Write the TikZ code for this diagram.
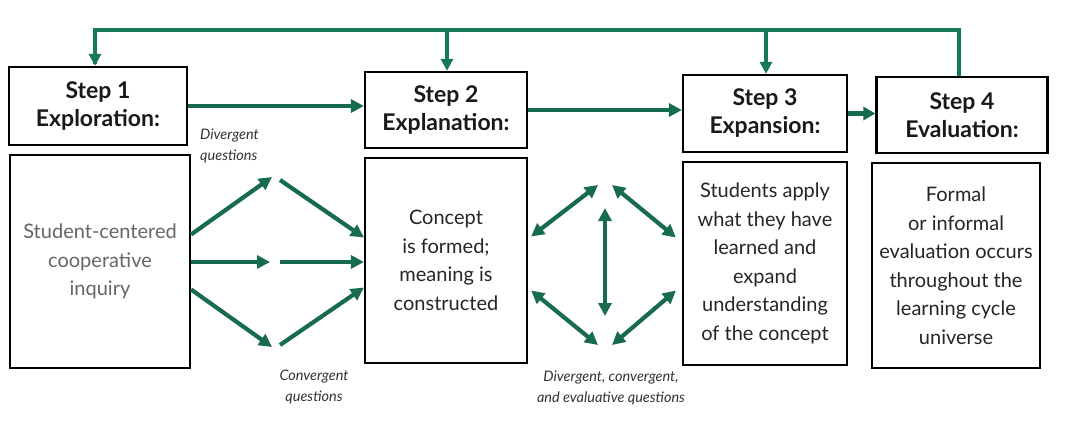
\documentclass[tikz,border=0pt]{standalone}
\usepackage{fontspec}
\setmainfont{Lato}
\usetikzlibrary{arrows.meta}
\definecolor{grn}{RGB}{24,108,78}
\definecolor{toplinec}{RGB}{22,122,84}
\begin{document}
\begin{tikzpicture}[x=1pt,y=-1pt,
  headbox/.style={draw=black,line width=2.2pt,fill=white,align=center,inner sep=0pt,
    font=\fontsize{23}{28}\selectfont\bfseries,text=black!90},
  bodybox/.style={draw=black,line width=2.2pt,fill=white,align=center,inner sep=0pt,
    font=\fontsize{20}{28.5}\selectfont,text=black!85},
  garrow/.style={draw=grn,line width=4.2pt,-{Triangle[length=13pt,width=13pt]}},
  darrow/.style={draw=grn,line width=4.2pt,{Triangle[length=13pt,width=13pt]}-{Triangle[length=13pt,width=13pt]}},
  loopline/.style={draw=toplinec,line width=3.6pt},
  qlabel/.style={font=\fontsize{14.5}{21}\selectfont\itshape,text=black!80,inner sep=0pt,align=center}]
\useasboundingbox (0,0) rectangle (1071,425);
\fill[white] (0,0) rectangle (1071,425);
% step boxes
\node[headbox,minimum width=178pt,minimum height=78pt] (s1h) at (98,106) {Step 1\\Exploration:};
\node[bodybox,minimum width=180pt,minimum height=213pt,text=black!60] (s1b) at (100,261.5) {Student-centered\\cooperative\\inquiry};
\node[headbox,minimum width=162pt,minimum height=76pt] (s2h) at (446,110) {Step 2\\Explanation:};
\node[bodybox,minimum width=162pt,minimum height=205pt] (s2b) at (446,260.5) {Concept\\is formed;\\meaning is\\constructed};
\node[headbox,minimum width=164pt,minimum height=77pt] (s3h) at (765,113.5) {Step 3\\Expansion:};
\node[bodybox,minimum width=164pt,minimum height=203pt] (s3b) at (765,263.5) {Students apply\\what they have\\learned and\\expand\\understanding\\of the concept};
\node[headbox,minimum width=171pt,minimum height=76pt] (s4h) at (962,115) {Step 4\\Evaluation:};
\node[bodybox,minimum width=168pt,minimum height=205pt] (s4b) at (956,265.5) {Formal\\or informal\\evaluation occurs\\throughout the\\learning cycle\\universe};
% top feedback loop
\coordinate (tr) at (959,30);
\coordinate (tl) at (95,30);
\coordinate (t2) at (447,30);
\coordinate (t3) at (766,30);
\draw[loopline,line join=miter] (s4h.north -| tr) -- (tr) -- (tl) -- ([yshift=2pt]tl |- s1h.north);
\draw[loopline,-{Triangle[length=12pt,width=12pt]}] (tl) -- (tl |- s1h.north);
\draw[loopline,-{Triangle[length=12pt,width=12pt]}] (t2) -- (t2 |- s2h.north);
\draw[loopline,-{Triangle[length=12pt,width=12pt]}] (t3) -- (t3 |- s3h.north);
% header arrows
\draw[garrow] (s1h.east) -- (s1h.east -| s2h.west);
\draw[garrow] (s2h.east) -- (s2h.east -| s3h.west);
\draw[garrow,-{Triangle[length=12pt,width=13pt]}] (s3h.east) -- (s3h.east -| s4h.west);
% divergent / convergent arrows
\coordinate (a1) at (272,177);
\coordinate (b1) at (280,180);
\coordinate (a2) at (270,262);
\coordinate (b2) at (280,262);
\coordinate (a3) at (272,347);
\coordinate (b3) at (280,345);
\draw[garrow] ([yshift=27pt]s1b.east) -- (a1);
\draw[garrow] (b1) -- ([yshift=23pt]s2b.west);
\draw[garrow] (s1b.east |- a2) -- (a2);
\draw[garrow] (b2) -- (b2 -| s2b.west);
\draw[garrow] ([yshift=-28pt]s1b.east) -- (a3);
\draw[garrow] (b3) -- ([yshift=-27pt]s2b.west);
\node[qlabel,anchor=west,align=left] (ldiv) at (200,146) {Divergent\\questions};
\node[qlabel] (lconv) at (314,387) {Convergent\\questions};
% diamond of double arrows
\coordinate (ul) at (598,185);
\coordinate (ur) at (612,185);
\coordinate (ll) at (598,345);
\coordinate (lr) at (612,345);
\coordinate (vt) at (605,208);
\coordinate (vb) at (605,316);
\draw[darrow] ([xshift=3pt,yshift=24pt]s2b.east) -- (ul);
\draw[darrow] (ur) -- ([xshift=-6pt,yshift=26pt]s3b.west);
\draw[darrow] ([xshift=3pt,yshift=-30pt]s2b.east) -- (ll);
\draw[darrow] (lr) -- ([xshift=-6pt,yshift=-27pt]s3b.west);
\draw[darrow] (vt) -- (vb);
\node[qlabel] (ldce) at (611,388) {Divergent, convergent,\\and evaluative questions};
\end{tikzpicture}
\end{document}
